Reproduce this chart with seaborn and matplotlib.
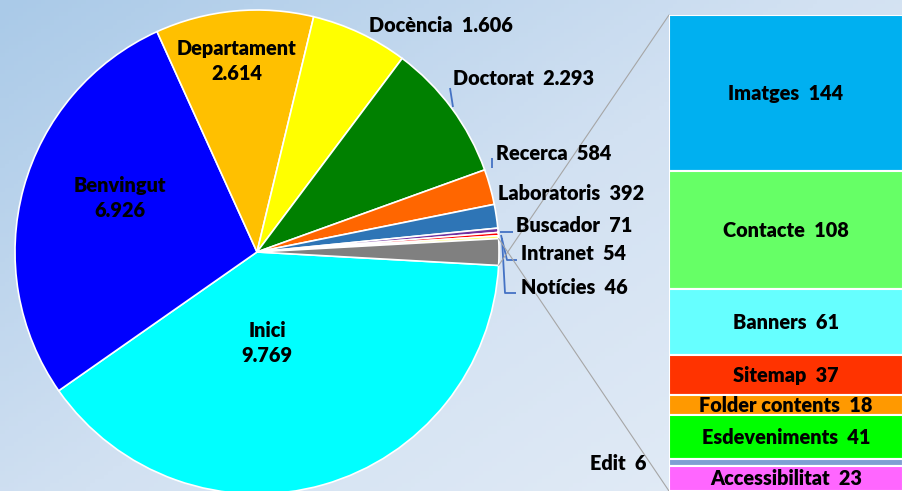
import numpy as np
import matplotlib
matplotlib.use('Agg')
import matplotlib.pyplot as plt
from matplotlib.colors import LinearSegmentedColormap
import seaborn as sns

# Dades del pastís principal
pie_labels = ['Inici', 'Benvingut', 'Departament', 'Docència', 'Doctorat', 'Recerca',
              'Laboratoris', 'Buscador', 'Intranet', 'Notícies']
pie_values = [9769, 6926, 2614, 1606, 2293, 584, 392, 71, 54, 46]
pie_colors = ['#00FFFF', '#0000FF', '#FFC000', '#FFFF00', '#008000', '#FF6600',
              '#2E75B6', '#7030A0', '#FF0000', '#FFFF66']

# Dades de la barra (detall de "Altres")
bar_labels = ['Imatges', 'Contacte', 'Banners', 'Sitemap', 'Folder contents',
              'Esdeveniments', 'Edit', 'Accessibilitat']
bar_values = [144, 108, 61, 37, 18, 41, 6, 23]
bar_colors = ['#00B0F0', '#66FF66', '#66FFFF', '#FF3300', '#FF9900',
              '#00FF00', '#7F9FD4', '#FF66FF']

sns.set_theme(style='white')
plt.rcParams['font.family'] = ['Lato', 'DejaVu Sans']

W, H = 903, 491
fig = plt.figure(figsize=(W / 100, H / 100), dpi=100)

# Fons amb degradat
bg = fig.add_axes([0, 0, 1, 1])
xx, yy = np.meshgrid(np.linspace(0, 1, 200), np.linspace(0, 1, 120))
grad = (xx * 0.55 + yy * 0.45)
cmap = LinearSegmentedColormap.from_list('bg', ['#AACAE8', '#D2E1F2', '#E6EEF7'])
bg.imshow(grad, cmap=cmap, aspect='auto', extent=[0, 1, 1, 0])
bg.axis('off')

# Eix principal en coordenades de píxel (y cap avall)
ax = fig.add_axes([0, 0, 1, 1])
ax.patch.set_alpha(0)

def fmt(v):
    return f'{v:,}'.replace(',', '.')

other = sum(bar_values)
values = pie_values + [other]
colors = pie_colors + ['#808080']
total = sum(values)
start = 360 * other / total / 2

cx, cy, R = 257, 252, 242
wedges, _ = ax.pie(values, colors=colors, startangle=start, counterclock=True,
                   center=(cx, cy), radius=R,
                   wedgeprops=dict(edgecolor='white', linewidth=1.2))
ax.set_xlim(0, W)
ax.set_ylim(H, 0)
ax.set_aspect('equal')
ax.axis('off')

tk = dict(fontsize=14.3, fontweight='heavy', color='black')

# Etiquetes internes
inside = {'Inici': (267, 343), 'Benvingut': (120, 198), 'Departament': (237, 61)}
for lab, val in zip(pie_labels, pie_values):
    if lab in inside:
        x, y = inside[lab]
        ax.text(x, y, f'{lab}\n{fmt(val)}', ha='center', va='center',
                linespacing=1.35, **tk)

# Etiquetes externes
outside = {'Docència': (369, 25), 'Doctorat': (453, 78), 'Recerca': (496, 153),
           'Laboratoris': (498, 193), 'Buscador': (516, 225), 'Intranet': (521, 253),
           'Notícies': (521, 288)}
for lab, val in zip(pie_labels, pie_values):
    if lab in outside:
        x, y = outside[lab]
        ax.text(x, y, f'{lab}  {fmt(val)}', ha='left', va='center', **tk)

# Línies guia
lc = '#4472C4'
guides = [[(450, 88), (453, 107)],
          [(492, 158), (492, 168)],
          [(500, 232), (513, 232)],
          [(501, 235), (507, 260), (517, 260)],
          [(502, 238), (505, 293), (516, 293)]]
for g in guides:
    gx, gy = zip(*g)
    ax.plot(gx, gy, color=lc, lw=1.3, solid_capstyle='butt')

# Línies de connexió entre el pastís i la barra
bx0, by0, by1 = 669, 15, 491
for ang in (start, -start):
    px = cx + R * np.cos(np.radians(ang))
    py = cy + R * np.sin(np.radians(ang))
    ax.plot([px, bx0], [py, by0 if ang > 0 else by1], color='#A6A6A6', lw=0.8)

# Barra apilada
axb = fig.add_axes([bx0 / W, 0, 1 - bx0 / W, (by1 - by0) / H])
axb.patch.set_alpha(0)
bottoms = np.concatenate([[0], np.cumsum(bar_values)[:-1]])
axb.bar([0] * len(bar_values), bar_values, bottom=bottoms, width=1.0,
        color=bar_colors, edgecolor='white', linewidth=1.5)
axb.set_xlim(-0.5, 0.5)
axb.set_ylim(other, 0)
axb.axis('off')
for lab, val, b in zip(bar_labels, bar_values, bottoms):
    if lab == 'Edit':
        continue
    axb.text(0.0, b + val / 2, f'{lab}  {val}', ha='center', va='center', **tk)

ax.text(590, 463, f'Edit  {bar_values[bar_labels.index("Edit")]}', ha='left',
        va='center', **tk)

fig.savefig('out.png', dpi=100)
